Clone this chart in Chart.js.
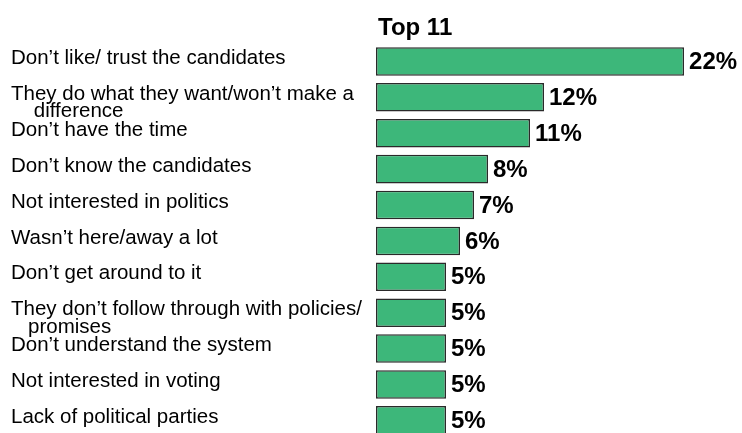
<!DOCTYPE html>
<html>
<head>
<meta charset="utf-8">
<script src="https://cdn.jsdelivr.net/npm/chart.js@4/dist/chart.umd.min.js"></script>
<style>
  html, body { margin: 0; padding: 0; background: #fff; overflow: hidden; }
  #wrap { width: 742px; height: 433px; overflow: hidden; }
  canvas { display: block; }
</style>
</head>
<body>
<div id="wrap"><canvas id="c" width="742" height="450"></canvas></div>
<script>
const chartTitle = "Top 11";
const categories = [
  "Don\u2019t like/ trust the candidates",
  ["", "They do what they want/won\u2019t make a", "    difference"],
  "Don\u2019t have the time",
  "Don\u2019t know the candidates",
  "Not interested in politics",
  "Wasn\u2019t here/away a lot",
  "Don\u2019t get around to it",
  ["", "They don\u2019t follow through with policies/", "   promises"],
  "Don\u2019t understand the system",
  "Not interested in voting",
  "Lack of political parties"
];
const percentages = [22, 12, 11, 8, 7, 6, 5, 5, 5, 5, 5];

const FONT = '"Liberation Sans", Arial, sans-serif';

const titlePlugin = {
  id: 'topTitle',
  afterDraw(chart) {
    const ctx = chart.ctx;
    ctx.save();
    ctx.font = 'bold 24px ' + FONT;
    ctx.fillStyle = '#000';
    ctx.textAlign = 'left';
    ctx.textBaseline = 'alphabetic';
    ctx.fillText(chartTitle, chart.chartArea.left + 2, 35);
    ctx.restore();
  }
};

const valueLabels = {
  id: 'valueLabels',
  afterDatasetsDraw(chart) {
    const ctx = chart.ctx;
    const meta = chart.getDatasetMeta(0);
    ctx.save();
    ctx.font = 'bold 24px ' + FONT;
    ctx.fillStyle = '#000';
    ctx.textAlign = 'left';
    ctx.textBaseline = 'middle';
    meta.data.forEach((bar, i) => {
      ctx.fillText(percentages[i] + '%', bar.x + 5, bar.y + 1);
    });
    ctx.restore();
  }
};

new Chart(document.getElementById('c'), {
  type: 'bar',
  data: {
    labels: categories,
    datasets: [{
      data: percentages,
      backgroundColor: '#3db77a',
      borderColor: '#2a2a2a',
      borderWidth: 1.5,
      borderSkipped: false,
      barPercentage: 0.795,
      categoryPercentage: 1
    }]
  },
  options: {
    indexAxis: 'y',
    responsive: false,
    animation: false,
    devicePixelRatio: 1,
    layout: { padding: { left: 11, top: 43.5, right: 0, bottom: 1.6 } },
    plugins: {
      legend: { display: false },
      tooltip: { enabled: false },
      title: { display: false }
    },
    scales: {
      x: {
        display: false,
        min: 0,
        max: 26.14
      },
      y: {
        afterFit(scale) { scale.width = 365; },
        grid: { display: false },
        border: { display: false },
        ticks: {
          autoSkip: false,
          crossAlign: 'far',
          labelOffset: -3,
          color: '#000',
          font: { family: FONT, size: 20.5, lineHeight: 0.85 }
        }
      }
    }
  },
  plugins: [titlePlugin, valueLabels]
});
</script>
</body>
</html>
